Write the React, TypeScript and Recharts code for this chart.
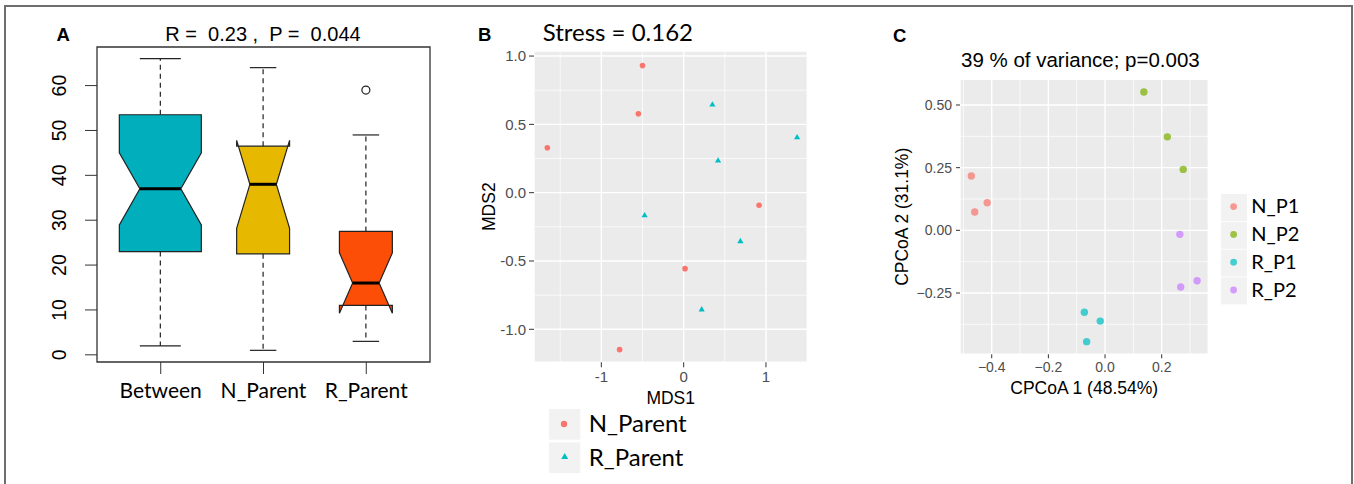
import React from "react";
import {
  ComposedChart,
  Bar,
  XAxis,
  YAxis,
  ReferenceArea,
  ScatterChart,
  Scatter,
  CartesianGrid,
  Legend,
} from "recharts";

// ---------- panel A : distances within / between groups ----------
const groups = ["Between", "N_Parent", "R_Parent"];
const groupN = [36, 15, 15];
const lowWhisker = [2, 1, 3];
const lowerHinge = [23, 22.5, 11];
const medians = [37, 38, 16];
const upperHinge = [53.5, 46.5, 27.5];
const highWhisker = [66, 64, 49];
const outliers: number[][] = [[], [], [59]];
const boxColors = ["#00AFBB", "#E7B800", "#FC4E07"];
const yTicksA = [0, 10, 20, 30, 40, 50, 60];

// ---------- panel B : NMDS ----------
const nParentX = [-0.5, -0.55, -1.656, 0.916, 0.017, -0.778];
const nParentY = [0.93, 0.578, 0.329, -0.092, -0.556, -1.149];
const rParentX = [0.349, 1.378, 0.418, -0.474, 0.689, 0.219];
const rParentY = [0.645, 0.405, 0.235, -0.166, -0.355, -0.855];
const nmdsGroups = ["N_Parent", "R_Parent"];
const nmdsColors = ["#F8766D", "#00BFC4"];

// ---------- panel C : CPCoA ----------
const cpcoaGroups = ["N_P1", "N_P2", "R_P1", "R_P2"];
const cpcoaColors = ["#F8766D", "#7CAE00", "#00BFC4", "#C77CFF"];
const cpcoa1 = [
  [-0.472, -0.46, -0.416],
  [0.137, 0.22, 0.276],
  [-0.073, -0.017, -0.065],
  [0.264, 0.325, 0.267],
];
const cpcoa2 = [
  [0.217, 0.073, 0.11],
  [0.552, 0.373, 0.243],
  [-0.327, -0.362, -0.444],
  [-0.016, -0.201, -0.226],
];

const ARIAL = "'Liberation Sans', Arial, sans-serif";
const CALIBRI = "Lato, 'Open Sans', sans-serif";

const boxData = groups.map((g, i) => ({
  name: g,
  pos: i + 1,
  n: groupN[i],
  lo: lowWhisker[i],
  q1: lowerHinge[i],
  med: medians[i],
  q3: upperHinge[i],
  hi: highWhisker[i],
  out: outliers[i],
  range: [lowWhisker[i], highWhisker[i]],
}));
const maxN = Math.max(...groupN);

// notched box drawn like R's boxplot(notch = TRUE, varwidth = TRUE)
function NotchBox(props: any) {
  const { x, y, width, height, payload, index } = props;
  const d = payload;
  const top = Math.min(y, y + height);
  const bottom = Math.max(y, y + height);
  const py = (v: number) => bottom - ((v - d.lo) / (d.hi - d.lo)) * (bottom - top);
  const cx = x + width / 2;
  const hw = (width / 2) * Math.sqrt(d.n / maxN);
  const notch = (1.58 * (d.q3 - d.q1)) / Math.sqrt(d.n);
  const nLo = d.med - notch;
  const nHi = d.med + notch;
  const xl = cx - hw;
  const xr = cx + hw;
  const ml = cx - hw / 2;
  const mr = cx + hw / 2;
  const pts = [
    [xl, py(d.q1)],
    [xl, py(nLo)],
    [ml, py(d.med)],
    [xl, py(nHi)],
    [xl, py(d.q3)],
    [xr, py(d.q3)],
    [xr, py(nHi)],
    [mr, py(d.med)],
    [xr, py(nLo)],
    [xr, py(d.q1)],
  ]
    .map((p) => p.join(","))
    .join(" ");
  return (
    <g>
      <line x1={cx} x2={cx} y1={py(d.q3)} y2={py(d.hi)} stroke="#222" strokeWidth={1.2} strokeDasharray="5 4" />
      <line x1={cx} x2={cx} y1={py(d.q1)} y2={py(d.lo)} stroke="#222" strokeWidth={1.2} strokeDasharray="5 4" />
      <line x1={cx - hw / 2} x2={cx + hw / 2} y1={py(d.hi)} y2={py(d.hi)} stroke="#222" strokeWidth={1.2} />
      <line x1={cx - hw / 2} x2={cx + hw / 2} y1={py(d.lo)} y2={py(d.lo)} stroke="#222" strokeWidth={1.2} />
      <polygon points={pts} fill={boxColors[index]} stroke="#222" strokeWidth={1.2} />
      <line x1={ml} x2={mr} y1={py(d.med)} y2={py(d.med)} stroke="#000" strokeWidth={3} />
      {d.out.map((v: number, k: number) => (
        <circle key={k} cx={cx} cy={py(v)} r={4} fill="none" stroke="#222" strokeWidth={1.2} />
      ))}
    </g>
  );
}

const RotatedTick = ({ x, y, payload }: any) => (
  <text
    x={x}
    y={y}
    transform={`rotate(-90 ${x} ${y})`}
    textAnchor="middle"
    fontFamily={ARIAL}
    fontSize={19.5}
    fill="#000"
  >
    {payload.value}
  </text>
);

function PanelA() {
  return (
    <ComposedChart width={460} height={484} data={boxData} margin={{ top: 47, right: 30, bottom: 82, left: 37 }}>
      <XAxis
        type="number"
        dataKey="pos"
        domain={[0.38, 3.62]}
        ticks={[1, 2, 3]}
        interval={0}
        tickFormatter={(v: number) => groups[v - 1]}
        tickSize={12}
        tickMargin={9}
        axisLine={false}
        tickLine={{ stroke: "#333" }}
        tick={{ fontFamily: CALIBRI, fontSize: 21, fill: "#000" }}
        height={40}
        allowDataOverflow
      />
      <YAxis
        type="number"
        domain={[-1.6, 68.6]}
        ticks={yTicksA}
        interval={0}
        tickSize={12}
        tickMargin={19}
        axisLine={false}
        tickLine={{ stroke: "#333" }}
        tick={<RotatedTick />}
        width={60}
        allowDataOverflow
      />
      <Bar dataKey="range" barSize={82} shape={NotchBox} isAnimationActive={false} />
      <ReferenceArea x1={0.38} x2={3.62} y1={-1.6} y2={68.6} fill="none" stroke="#333" strokeWidth={1.3} ifOverflow="visible" />
    </ComposedChart>
  );
}

// ---------- ggplot-like helpers ----------
const ggTick = { fill: "#4D4D4D", fontSize: 15, fontFamily: ARIAL };

const nParentData = nParentX.map((x, i) => ({ x, y: nParentY[i] }));
const rParentData = rParentX.map((x, i) => ({ x, y: rParentY[i] }));

const Dot = (color: string, r: number, opacity = 1) => (p: any) =>
  <circle cx={p.cx} cy={p.cy} r={r} fill={color} fillOpacity={opacity} />;

const Tri = (color: string) => (p: any) =>
  (
    <polygon
      points={`${p.cx},${p.cy - 3.4} ${p.cx - 3.1},${p.cy + 2} ${p.cx + 3.1},${p.cy + 2}`}
      fill={color}
    />
  );

function LegendB() {
  return (
    <svg width={160} height={66} style={{ display: "block" }}>
      {nmdsGroups.map((name, i) => (
        <g key={name} transform={`translate(0 ${i * 33.4})`}>
          <rect width={31.3} height={30.7} fill="#F2F2F2" />
          {i === 0 ? (
            <circle cx={15} cy={15} r={3.2} fill={nmdsColors[i]} />
          ) : (
            <polygon points="15.7,10.6 12.2,16.6 19.2,16.6" fill={nmdsColors[i]} />
          )}
          <text x={39.7} y={23.2} fontFamily={CALIBRI} fontSize={24} fill="#000">
            {name}
          </text>
        </g>
      ))}
    </svg>
  );
}

function PanelB() {
  return (
    <ScatterChart width={420} height={484} margin={{ top: 51, right: 72.7, bottom: 91.7, left: 24 }}>
      <CartesianGrid
        fill="#EBEBEB"
        stroke="#fff"
        strokeWidth={0.7}
        verticalValues={[-1.5, -0.5, 0.5]}
        horizontalValues={[-0.75, -0.25, 0.25, 0.75]}
      />
      <CartesianGrid fill="none" stroke="#fff" strokeWidth={1.4} />
      <XAxis
        type="number"
        dataKey="x"
        domain={[-1.818, 1.502]}
        ticks={[-1, 0, 1]}
        interval={0}
        allowDataOverflow
        tickSize={5}
        tickMargin={4}
        axisLine={false}
        tickLine={{ stroke: "#333" }}
        tick={ggTick}
        height={30}
      />
      <YAxis
        type="number"
        dataKey="y"
        domain={[-1.2416, 1.037]}
        ticks={[-1, -0.5, 0, 0.5, 1]}
        interval={0}
        allowDataOverflow
        tickFormatter={(v: number) => v.toFixed(1)}
        tickSize={5}
        tickMargin={3}
        axisLine={false}
        tickLine={{ stroke: "#333" }}
        tick={ggTick}
        width={50}
      />
      <Scatter name="N_Parent" data={nParentData} shape={Dot(nmdsColors[0], 2.8)} isAnimationActive={false} />
      <Scatter name="R_Parent" data={rParentData} shape={Tri(nmdsColors[1])} isAnimationActive={false} />
      <Legend
        layout="vertical"
        align="center"
        verticalAlign="middle"
        wrapperStyle={{ position: "absolute", left: 89.3, top: 409.3, width: 160, height: 66 }}
        content={() => <LegendB />}
      />
    </ScatterChart>
  );
}

const minus = (s: string) => s.replace("-", "\u2212");

function LegendC() {
  return (
    <svg width={120} height={112} style={{ display: "block" }}>
      {cpcoaGroups.map((name, i) => (
        <g key={name} transform={`translate(0 ${i * 27.8})`}>
          <rect width={26} height={27} fill="#F2F2F2" />
          <circle cx={12.6} cy={12.6} r={3.4} fill={cpcoaColors[i]} fillOpacity={0.72} />
          <text x={30.3} y={19.2} fontFamily={CALIBRI} fontSize={20} fill="#000">
            {name}
          </text>
        </g>
      ))}
    </svg>
  );
}

function PanelC() {
  return (
    <ScatterChart width={474} height={484} margin={{ top: 79.3, right: 145.7, bottom: 99.7, left: 30 }}>
      <CartesianGrid
        fill="#EBEBEB"
        stroke="#fff"
        strokeWidth={0.7}
        verticalValues={[-0.5, -0.3, -0.1, 0.1, 0.3]}
        horizontalValues={[-0.375, -0.125, 0.125, 0.375]}
      />
      <CartesianGrid fill="none" stroke="#fff" strokeWidth={1.4} />
      <XAxis
        type="number"
        dataKey="x"
        domain={[-0.512, 0.3645]}
        ticks={[-0.4, -0.2, 0, 0.2]}
        interval={0}
        allowDataOverflow
        tickFormatter={(v: number) => minus(v.toFixed(1))}
        tickSize={4}
        tickMargin={4}
        axisLine={false}
        tickLine={{ stroke: "#333" }}
        tick={{ ...ggTick, fontSize: 14 }}
        height={30}
      />
      <YAxis
        type="number"
        dataKey="y"
        domain={[-0.4945, 0.6025]}
        ticks={[-0.25, 0, 0.25, 0.5]}
        interval={0}
        allowDataOverflow
        tickFormatter={(v: number) => minus(v.toFixed(2))}
        tickSize={4}
        tickMargin={4}
        axisLine={false}
        tickLine={{ stroke: "#333" }}
        tick={{ ...ggTick, fontSize: 14 }}
        width={50}
      />
      {cpcoaGroups.map((g, i) => (
        <Scatter
          key={g}
          name={g}
          data={cpcoa1[i].map((x, k) => ({ x, y: cpcoa2[i][k] }))}
          shape={Dot(cpcoaColors[i], 3.7, 0.72)}
          isAnimationActive={false}
        />
      ))}
      <Legend
        layout="vertical"
        align="center"
        verticalAlign="middle"
        wrapperStyle={{ position: "absolute", left: 340.7, top: 194.3, width: 120, height: 112 }}
        content={() => <LegendC />}
      />
    </ScatterChart>
  );
}

export default function App() {
  return (
    <div
      style={{
        position: "absolute",
        left: 0,
        top: 0,
        width: 1354,
        height: 484,
        background: "#fff",
        overflow: "hidden",
      }}
    >
      <div
        style={{
          position: "absolute",
          left: 4,
          top: 5,
          width: 1349,
          height: 520,
          border: "2px solid #6e6e6e",
          boxSizing: "border-box",
        }}
      />
      <div style={{ position: "absolute", left: 0, top: 0 }}>
        <PanelA />
      </div>
      <div style={{ position: "absolute", left: 460, top: 0 }}>
        <PanelB />
      </div>
      <div style={{ position: "absolute", left: 880, top: 0 }}>
        <PanelC />
      </div>
      <svg
        width={1354}
        height={484}
        style={{ position: "absolute", left: 0, top: 0, pointerEvents: "none" }}
      >
        <text x={56.5} y={41} fontFamily={ARIAL} fontWeight="bold" fontSize={18.5}>A</text>
        <text x={263} y={41} textAnchor="middle" fontFamily={ARIAL} fontSize={20} style={{ whiteSpace: "pre" }}>
          {"R =  0.23 ,  P =  0.044"}
        </text>

        <text x={478} y={41} fontFamily={ARIAL} fontWeight="bold" fontSize={18.5}>B</text>
        <text x={542.7} y={41} fontFamily={CALIBRI} fontSize={24}>Stress = 0.162</text>
        <text x={670.7} y={404.3} textAnchor="middle" fontFamily={ARIAL} fontSize={17.5}>MDS1</text>
        <text
          x={495.5}
          y={206.7}
          transform="rotate(-90 495.5 206.7)"
          textAnchor="middle"
          fontFamily={ARIAL}
          fontSize={17.5}
        >
          MDS2
        </text>

        <text x={893} y={41.5} fontFamily={ARIAL} fontWeight="bold" fontSize={18.5}>C</text>
        <text x={961} y={66.5} fontFamily={ARIAL} fontSize={20.5}>39 % of variance; p=0.003</text>
        <text x={1084.2} y={394} textAnchor="middle" fontFamily={ARIAL} fontSize={17.5}>CPCoA 1 (48.54%)</text>
        <text
          x={908.3}
          y={216.8}
          transform="rotate(-90 908.3 216.8)"
          textAnchor="middle"
          fontFamily={ARIAL}
          fontSize={17.5}
        >
          CPCoA 2 (31.1%)
        </text>
      </svg>
    </div>
  );
}
